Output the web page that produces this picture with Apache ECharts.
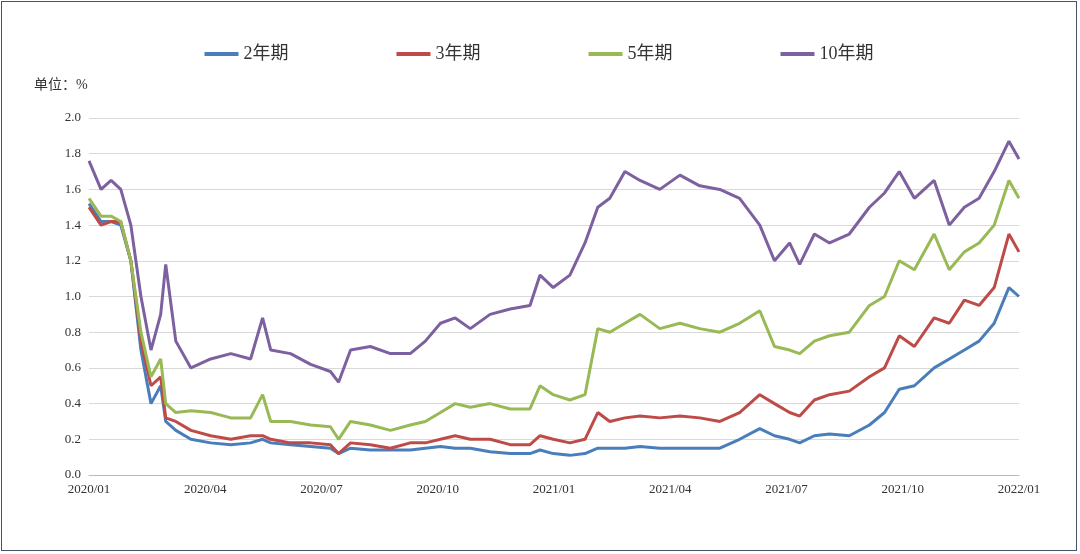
<!DOCTYPE html>
<html><head><meta charset="utf-8">
<script src="https://cdn.jsdelivr.net/npm/echarts@6/dist/echarts.min.js"></script>
<style>html,body{margin:0;padding:0;background:#fff}
#c{position:absolute;left:1px;top:1px;width:1076px;height:550px;border:1px solid #44546a;box-sizing:border-box}</style>
</head><body><div id="c"></div>
<script>
const months=[0,0.31,0.57,0.82,1.08,1.34,1.6,1.85,1.98,2.24,2.63,3.14,3.66,4.17,4.48,4.69,5.2,5.72,6.23,6.44,6.75,7.26,7.78,8.29,8.68,9.07,9.45,9.84,10.35,10.87,11.38,11.64,11.98,12.41,12.8,13.13,13.44,13.83,14.22,14.73,15.25,15.76,16.28,16.79,17.31,17.69,18.08,18.34,18.72,19.11,19.62,20.14,20.53,20.91,21.3,21.81,22.2,22.59,22.97,23.36,23.74,24];
const y2=[1.52,1.42,1.42,1.4,1.2,0.7,0.4,0.5,0.3,0.25,0.2,0.18,0.17,0.18,0.2,0.18,0.17,0.16,0.15,0.12,0.15,0.14,0.14,0.14,0.15,0.16,0.15,0.15,0.13,0.12,0.12,0.14,0.12,0.11,0.12,0.15,0.15,0.15,0.16,0.15,0.15,0.15,0.15,0.2,0.26,0.22,0.2,0.18,0.22,0.23,0.22,0.28,0.35,0.48,0.5,0.6,0.65,0.7,0.75,0.85,1.05,1.0];
const y3=[1.5,1.4,1.42,1.42,1.2,0.75,0.5,0.55,0.32,0.3,0.25,0.22,0.2,0.22,0.22,0.2,0.18,0.18,0.17,0.12,0.18,0.17,0.15,0.18,0.18,0.2,0.22,0.2,0.2,0.17,0.17,0.22,0.2,0.18,0.2,0.35,0.3,0.32,0.33,0.32,0.33,0.32,0.3,0.35,0.45,0.4,0.35,0.33,0.42,0.45,0.47,0.55,0.6,0.78,0.72,0.88,0.85,0.98,0.95,1.05,1.35,1.25];
const y5=[1.55,1.45,1.45,1.42,1.2,0.8,0.55,0.65,0.4,0.35,0.36,0.35,0.32,0.32,0.45,0.3,0.3,0.28,0.27,0.2,0.3,0.28,0.25,0.28,0.3,0.35,0.4,0.38,0.4,0.37,0.37,0.5,0.45,0.42,0.45,0.82,0.8,0.85,0.9,0.82,0.85,0.82,0.8,0.85,0.92,0.72,0.7,0.68,0.75,0.78,0.8,0.95,1.0,1.2,1.15,1.35,1.15,1.25,1.3,1.4,1.65,1.55];
const y10=[1.76,1.6,1.65,1.6,1.4,1.0,0.7,0.9,1.18,0.75,0.6,0.65,0.68,0.65,0.88,0.7,0.68,0.62,0.58,0.52,0.7,0.72,0.68,0.68,0.75,0.85,0.88,0.82,0.9,0.93,0.95,1.12,1.05,1.12,1.3,1.5,1.55,1.7,1.65,1.6,1.68,1.62,1.6,1.55,1.4,1.2,1.3,1.18,1.35,1.3,1.35,1.5,1.58,1.7,1.55,1.65,1.4,1.5,1.55,1.7,1.87,1.77];
const names=['2年期','3年期','5年期','10年期'];
const colors=['#4a7ebb','#be4b48','#98b954','#7d60a0'];
const tickLabels={0:'2020/01',3:'2020/04',6:'2020/07',9:'2020/10',12:'2021/01',15:'2021/04',18:'2021/07',21:'2021/10',24:'2022/01'};
const vals=[y2,y3,y5,y10];
const ch=echarts.init(document.getElementById('c'));
const font='"Liberation Serif","Noto Sans CJK SC",serif';
ch.setOption({
 animation:false,
 legend:{top:38,left:'center',itemGap:108,itemWidth:34,itemHeight:4,icon:'rect',textStyle:{fontFamily:font,fontSize:18,color:'#333'},data:names},
 graphic:[{type:'text',left:32,top:76,style:{text:'单位：%',font:'14px '+font,fill:'#333'}}],
 grid:{left:87,right:57,top:116,bottom:75},
 xAxis:{type:'value',min:0,max:24,interval:3,axisLine:{lineStyle:{color:'#bbb'}},axisTick:{show:false},splitLine:{show:false},
  axisLabel:{formatter:v=>tickLabels[v]||'',fontFamily:font,fontSize:13,color:'#333'}},
 yAxis:{type:'value',min:0,max:2,interval:0.2,axisLine:{show:false},axisTick:{show:false},
  splitLine:{lineStyle:{color:'#d9d9d9'}},axisLabel:{formatter:v=>v.toFixed(1),fontFamily:font,fontSize:13,color:'#333'}},
 series:names.map((n,i)=>({name:n,type:'line',showSymbol:false,color:colors[i],lineStyle:{width:3},
  data:months.map((m,j)=>[m,vals[i][j]])}))
});
</script></body></html>
